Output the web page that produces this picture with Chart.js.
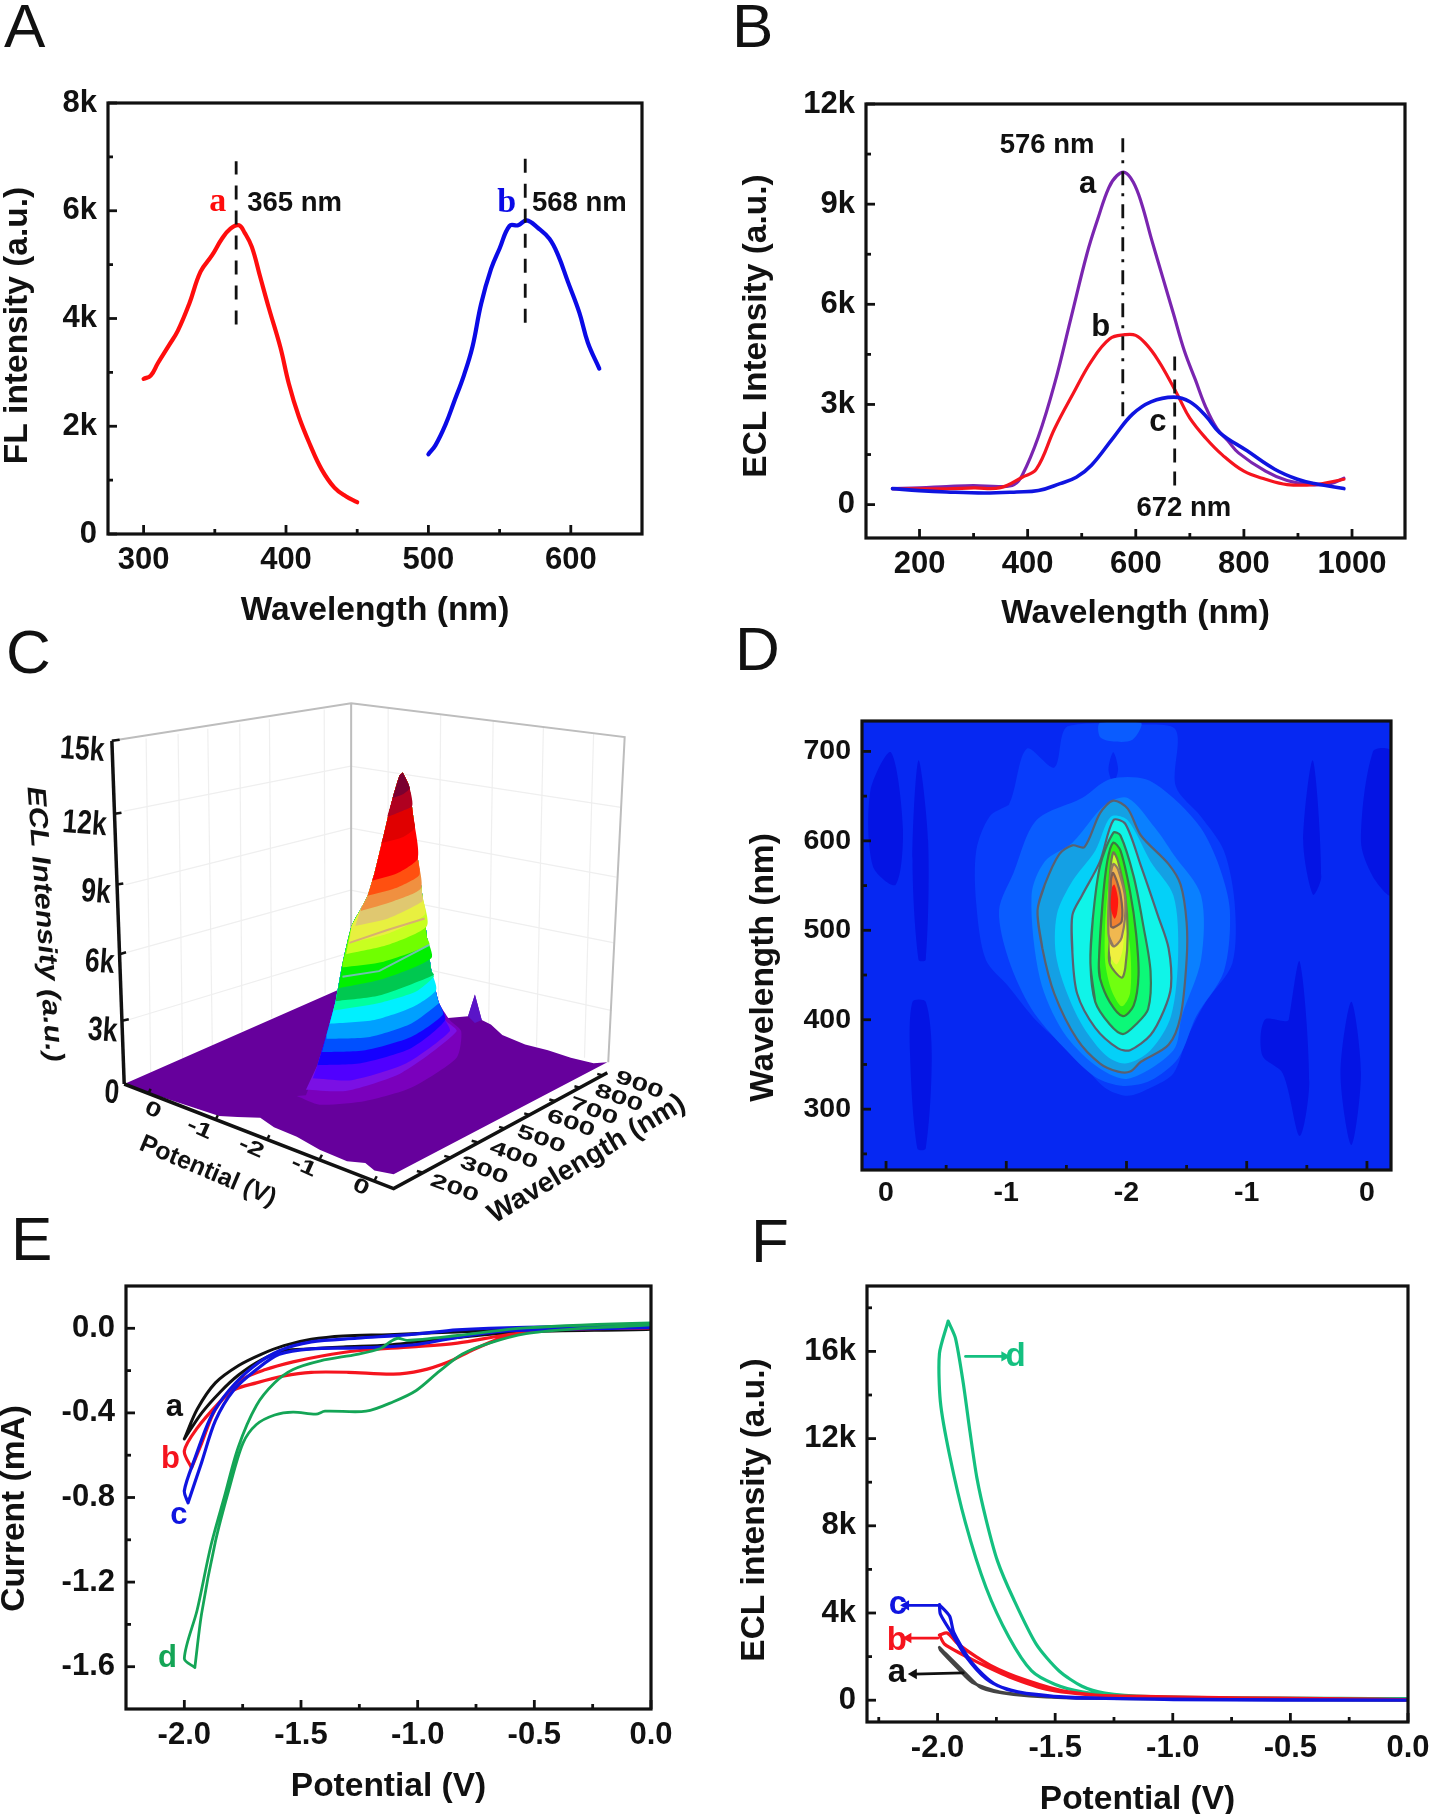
<!DOCTYPE html>
<html><head><meta charset="utf-8">
<script src="https://cdn.jsdelivr.net/npm/chart.js@4"></script>
<style>
html,body{margin:0;padding:0;background:#fff;overflow:hidden;width:1433px;height:1814px}
#page{position:relative;width:1433px;height:1814px;overflow:hidden;background:#fff}
canvas{position:absolute}
.letter{position:absolute;font:62px/62px "Liberation Sans",Arial,sans-serif;color:#111}
</style></head><body><div id="page"></div>
<script>
/* ---------- Panel A ---------- */
const aRedX=[300,305,310,318,324,332,340,348,355,361,367,371,376,382,388,396,402,409,417,425,434,442,450];
const aRedY=[2880,2940,3170,3510,3770,4270,4870,5170,5480,5670,5730,5590,5330,4760,4190,3470,2790,2180,1650,1200,860,700,590];
const aBlueX=[500,505,512,518,525,531,537,544,550,557,563,569,577,585,591,598,606,612,620];
const aBlueY=[1480,1650,2030,2450,2950,3480,4270,4920,5300,5720,5730,5820,5680,5480,5180,4680,4110,3550,3070];
const aXTicks=[300,400,500,600], aXMinor=[350,450,550];
const aYTicks=[0,2000,4000,6000,8000], aYMinor=[1000,3000,5000,7000];
/* ---------- Panel B ---------- */
const bAX=[150,200,250,300,350,375,390,420,450,480,510,530,550,565,580,595,610,630,650,670,690,710,730,750,770,790,840,880,925,960,985];
const bAY=[480,500,540,570,540,600,880,2040,3630,5580,7530,8570,9490,9850,9950,9670,9060,7900,6800,5700,4600,3750,2900,2280,1920,1550,1000,720,600,630,790];
const bBX=[150,250,300,350,390,416,450,484,518,552,580,600,620,640,660,680,700,730,760,800,840,880,930,985];
const bBY=[480,470,500,510,820,1060,2280,3320,4300,4970,5090,5070,4790,4360,3810,3200,2590,1980,1490,1000,760,600,600,760];
const bCX=[150,200,250,320,380,420,460,490,518,560,594,628,670,700,730,755,806,857,899,930,985];
const bCY=[480,420,380,350,380,420,630,820,1180,2040,2710,3080,3220,3080,2650,2160,1610,1060,760,630,480];
const bXTicks=[200,400,600,800,1000], bXMinor=[300,500,700,900];
const bYTicks=[0,3000,6000,9000,12000], bYMinor=[1500,4500,7500,10500];
/* ---------- Panel D (sweep position, wavelength) ---------- */
const dXTicks=[0,1,2,3,4], dXLabels=['0','-1','-2','-1','0'], dXMinor=[.5,1.5,2.5,3.5];
const dYTicks=[300,400,500,600,700], dYMinor=[250,350,450,550,650];
const dDark=[
 [[-.13,656],[.04,699],[.14,614],[.08,551],[-.11,572]],
 [[.27,690],[.35,600],[.33,467],[.27,467],[.22,580]],
 [[.22,420],[.33,420],[.38,360],[.33,256],[.26,256],[.2,360]],
 [[3.55,690],[3.62,560],[3.55,540],[3.47,600]],
 [[3.44,465],[3.52,330],[3.44,270],[3.3,340],[3.13,360],[3.15,400],[3.35,400]],
 [[4.05,700],[4.2,700],[4.2,540],[4.05,560],[3.95,600]],
 [[3.87,420],[3.95,340],[3.87,260],[3.78,340]]];
const dHalo1=[[.86,627],[1.02,640],[1.17,703],[1.40,682],[1.51,728],[2.12,730],[2.41,724],[2.41,661],[2.62,627],[2.81,589],[2.90,530],[2.88,463],[2.66,420],[2.50,378],[2.39,340],[2.20,324],[2.01,315],[1.82,324],[1.59,357],[1.25,399],[1.02,437],[.83,467],[.75,530],[.75,589]];
const dNotch=[[1.89,699],[1.85,680],[1.89,665],[1.93,680]];
const dTopBlob=[[1.78,732],[2.12,732],[2.05,713],[1.89,711],[1.78,716]];
const dHalo2=[[1.06,564],[1.25,623],[1.63,648],[1.86,669],[2.16,669],[2.39,648],[2.62,614],[2.77,572],[2.86,522],[2.81,454],[2.58,404],[2.43,357],[2.20,332],[1.97,326],[1.74,336],[1.47,370],[1.21,412],[1.02,467],[.94,522]];
const dHalo3=[[1.21,539],[1.32,577],[1.55,598],[1.82,640],[2.01,648],[2.24,614],[2.39,585],[2.62,539],[2.62,467],[2.46,404],[2.39,366],[2.01,334],[1.74,349],[1.47,387],[1.28,446]];
const dC1=[[1.26,522],[1.32,551],[1.44,585],[1.55,595],[1.65,593],[1.78,631],[1.89,645],[2.01,636],[2.12,606],[2.35,574],[2.45,551],[2.50,509],[2.50,467],[2.45,404],[2.35,372],[2.12,353],[2.03,342],[1.93,342],[1.78,351],[1.59,378],[1.40,429],[1.30,480]];
const dC1b=[[1.42,517],[1.55,555],[1.74,589],[1.87,627],[2.01,623],[2.20,577],[2.39,539],[2.43,475],[2.37,404],[2.20,366],[1.99,351],[1.82,361],[1.59,404],[1.42,467]];
const dC2=[[1.55,517],[1.63,539],[1.78,577],[1.89,623],[1.99,619],[2.12,572],[2.26,517],[2.35,480],[2.37,437],[2.31,410],[2.20,383],[2.03,366],[1.93,368],[1.74,391],[1.59,429],[1.55,475]];
const dC3=[[1.70,463],[1.72,513],[1.78,572],[1.89,609],[1.95,606],[2.06,560],[2.14,505],[2.20,454],[2.18,412],[2.08,395],[1.97,384],[1.86,395],[1.74,420]];
const dC4=[[1.77,463],[1.80,530],[1.84,577],[1.89,598],[1.95,589],[2.03,543],[2.08,496],[2.10,450],[2.06,416],[1.97,404],[1.86,420],[1.78,446]];
const dC4b=[[1.82,470],[1.84,540],[1.90,575],[1.97,530],[2.03,480],[2.03,430],[1.96,415],[1.87,435]];
const dC5=[[1.86,488],[1.86,555],[1.89,587],[1.93,577],[1.99,539],[2.01,496],[1.99,458],[1.96,447],[1.86,463]];
const dC5b=[[1.86,490],[1.87,560],[1.92,560],[1.98,520],[1.97,480],[1.92,462],[1.87,470]];
const dC6=[[1.85,496],[1.86,551],[1.89,574],[1.93,568],[1.99,534],[1.96,492],[1.89,482]];
const dC7=[[1.87,505],[1.87,555],[1.89,564],[1.95,540],[1.96,510],[1.89,503]];
const dC8=[[1.87,525],[1.88,548],[1.90,551],[1.93,535],[1.92,518],[1.90,513]];
/* ---------- Panel E ---------- */
const eAX=[-2,-1.945,-1.867,-1.769,-1.671,-1.573,-1.456,-1.319,-1.123,-.928,-.732,-.536,0,0,-.536,-.83,-1.123,-1.319,-1.456,-1.573,-1.671,-1.769,-1.847,-1.926,-2];
const eAY=[-.523,-.383,-.258,-.177,-.123,-.082,-.052,-.036,-.03,-.021,-.013,-.004,.004,-.004,-.016,-.043,-.079,-.088,-.097,-.106,-.15,-.222,-.302,-.401,-.523];
const eBX=[-1.969,-1.926,-1.867,-1.789,-1.691,-1.573,-1.456,-1.299,-1.104,-.986,-.869,-.771,-.634,-.497,0,0,-.438,-.634,-.83,-1.025,-1.26,-1.417,-1.534,-1.652,-1.749,-1.847,-1.945,-2,-1.969];
const eBY=[-.66,-.544,-.383,-.293,-.258,-.225,-.208,-.208,-.217,-.2,-.159,-.106,-.043,-.011,.005,.002,-.007,-.034,-.07,-.088,-.106,-.132,-.159,-.195,-.24,-.347,-.472,-.58,-.66];
const eCX=[-1.984,-1.926,-1.867,-1.789,-1.691,-1.593,-1.456,-1.26,-1.025,-.83,-.634,0,0,-.536,-.83,-1.025,-1.26,-1.456,-1.593,-1.71,-1.808,-1.886,-1.955,-2,-1.984];
const eCY=[-.825,-.634,-.437,-.293,-.195,-.123,-.097,-.093,-.079,-.043,-.013,.004,.009,.005,-.007,-.029,-.047,-.064,-.106,-.186,-.293,-.419,-.616,-.768,-.825];
const eDX=[-1.955,-1.926,-1.867,-1.808,-1.749,-1.691,-1.613,-1.534,-1.436,-1.397,-1.221,-1.104,-1.006,-.908,-.81,-.693,-.536,-.34,0,0,-.536,-.83,-1.045,-1.084,-1.114,-1.162,-1.26,-1.417,-1.534,-1.613,-1.691,-1.769,-1.828,-1.886,-1.945,-2,-1.955];
const eDY=[-1.604,-1.349,-1.009,-.759,-.544,-.455,-.41,-.396,-.406,-.392,-.392,-.347,-.294,-.204,-.123,-.07,-.025,-.004,.016,.025,.002,-.034,-.057,-.047,-.061,-.097,-.123,-.154,-.195,-.258,-.365,-.562,-.795,-1.027,-1.332,-1.561,-1.604];
const eXTicks=[-2,-1.5,-1,-.5,0], eXMinor=[-1.75,-1.25,-.75,-.25];
const eYTicks=[0,-.4,-.8,-1.2,-1.6], eYMinor=[-.2,-.6,-1,-1.4];
/* ---------- Panel F ---------- */
const fAX=[-1.992,-1.891,-1.813,-1.677,-1.386,0,-1.483,-1.736,-1.852,-1.911,-1.988,-1.992];
const fAY=[2420,1340,560,260,90,0,120,380,820,1430,2300,2420];
const fBX=[-1.992,-1.959,-1.911,-1.775,-1.619,-1.444,-1.191,0,-1.289,-1.522,-1.697,-1.852,-1.969,-1.992];
const fBY=[2990,3080,2560,1600,900,380,160,30,210,470,1080,1860,2560,2990];
const fCX=[-1.992,-1.949,-1.93,-1.852,-1.755,-1.619,-1.386,0,-.997,-1.483,-1.697,-1.794,-1.881,-1.94,-1.988,-1.992];
const fCY=[4380,3860,3080,1690,730,300,90,0,30,160,470,990,2030,3080,3950,4380];
const fDX=[-1.955,-1.924,-1.891,-1.862,-1.833,-1.794,-1.745,-1.677,-1.58,-1.483,-1.386,-1.289,-1.094,-.803,0,-.803,-1.191,-1.386,-1.502,-1.6,-1.697,-1.794,-1.881,-1.949,-1.988,-1.992,-1.955];
const fDY=[17390,16610,14560,12300,10210,8300,6380,4640,2560,1340,640,330,160,120,70,90,160,380,730,1340,2900,5170,8120,11250,13690,15910,17390];
const fXTicks=[-2,-1.5,-1,-.5,0], fXMinor=[-2.25,-1.75,-1.25,-.75,-.25];
const fYTicks=[0,4000,8000,12000,16000], fYMinor=[2000,6000,10000,14000,18000];
/* ---------- Panel C (projected 3D view, plot units) ---------- */
const cWallEdges=[[[245,268],[769,168],[1368,258],[1332,1122]],[[769,168],[769,930]]];
const cWallFaint=[[[272,455],[768,335],[1360,445]],[[275,650],[768,500],[1350,630]],[[278,830],[768,665],[1345,805]],[[280,1010],[768,830],[1340,985]],
 [[320,262],[330,1150]],[[390,250],[400,1115]],[[455,236],[465,1080]],[[525,222],[530,1040]],[[590,210],[595,1005]],[[710,185],[712,940]],
 [[850,180],[850,900]],[[965,197],[960,980]],[[1080,215],[1070,1030]],[[1190,232],[1175,1080]],[[1300,248],[1280,1110]]];
const cFloor=[[272,1180],[330,1205],[380,1225],[430,1245],[480,1265],[520,1268],[570,1270],[600,1295],[650,1320],[700,1355],[760,1385],[800,1390],[820,1410],[862,1420],[1330,1122],[1300,1125],[1250,1110],[1200,1090],[1150,1075],[1100,1050],[1075,1022],[1055,1010],[1040,942],[1025,1000],[975,1005],[960,985],[740,930]];
const cSpike=[[1025,1000],[1040,942],[1055,1010],[1040,1018]];
const cPeakLeft=[[882,352],[875,360],[860,420],[840,520],[820,620],[805,680],[790,715],[770,760],[750,860],[735,960],[715,1050],[695,1130],[670,1210],[650,1212]];
const cPeakRight=[[882,352],[895,385],[905,470],[915,580],[925,680],[935,790],[945,880],[960,960],[975,1010]];
const cBandArcs=[
 [[650,1212],[700,1235],[800,1225],[900,1190],[1000,1110],[1010,1040],[985,1010]],
 [[670,1195],[760,1198],[880,1150],[1000,1040]],
 [[685,1165],[770,1170],[890,1125],[985,1040]],
 [[695,1130],[790,1125],[900,1085],[975,1010]],
 [[705,1095],[800,1090],[900,1055],[970,995]],
 [[715,1060],[810,1055],[900,1020],[962,965]],
 [[722,1020],[820,1010],[905,975],[955,930]],
 [[730,985],[830,965],[910,935],[950,895]],
 [[735,960],[830,945],[950,890]],
 [[742,925],[840,900],[945,845]],
 [[750,870],[840,855],[940,810]],
 [[758,835],[850,810],[935,760]],
 [[765,805],[850,780],[930,730]],
 [[778,760],[850,740],[925,695]],
 [[790,720],[860,695],[922,660]],
 [[805,680],[865,660],[918,625]],
 [[815,640],[870,620],[915,580]],
 [[835,540],[880,525],[908,500]],
 [[848,470],[880,455],[903,440]],
 [[860,420],[882,410],[897,395]]];
const cBandColors=['#7a00bc','#7b10e4','#5000ff','#1500ff','#0050ff','#00a0ff','#00f0ff','#00ffa0','#00c850','#00f000','#70ff00','#c8ff20','#e8f040','#e0c870','#f09040','#ff5010','#ff0000','#e00000','#b00020','#7a0030'];
const cAxisZ=[[245,268],[272,1180]];
const cAxisFloor=[[272,1180],[862,1458],[1330,1150]];
const cZTicks=[[[245,268],[262,265]],[[251,462],[266,459]],[[256,650],[270,647]],[[262,835],[276,830]],[[267,1012],[282,1008]]];
const cPotTicks=[[[325,1205],[330,1193]],[[472,1275],[477,1263]],[[585,1328],[590,1316]],[[700,1380],[705,1368]],[[820,1437],[825,1425]]];
const cWaveTicks=[[[925,1415],[913,1411]],[[985,1375],[973,1371]],[[1045,1335],[1033,1331]],[[1105,1298],[1093,1294]],[[1160,1262],[1148,1258]],[[1215,1225],[1203,1221]],[[1270,1190],[1258,1186]],[[1320,1157],[1308,1153]]];
const cZLabels=['15k','12k','9k','6k','3k','0'];
const cPotLabels=['0','-1','-2','-1','0'];
const cWaveLabels=['200','300','400','500','600','700','800','900'];

const FF='"Liberation Sans",Arial,sans-serif';
const page=document.getElementById('page');
const kFmt=v=>v===0?'0':(v/1000)+'k';
const fix1=v=>v.toFixed(1);
const zip=(xs,ys)=>xs.map((x,i)=>({x,y:ys[i]}));
const pts=a=>a.map(p=>({x:p[0],y:p[1]}));
const closed=a=>[a[a.length-1]].concat(a,[a[0],a[1]]);

function letter(t,l,base){const d=document.createElement('div');d.className='letter';d.textContent=t;d.style.left=l+'px';d.style.top=(base-52.5)+'px';page.appendChild(d);}
letter('A',4,47);letter('B',732,47);letter('C',6,673);letter('D',735,670);letter('E',11,1260);letter('F',751,1262);

const curve=(data,color,w,extra)=>Object.assign({data,showLine:true,borderColor:color,backgroundColor:color,borderWidth:w,pointRadius:0,tension:.3,fill:false,borderCapStyle:'round',borderJoinStyle:'round'},extra||{});
const shape=(a,color,line)=>({data:pts(closed(a)),showLine:true,borderColor:line||'transparent',backgroundColor:color,borderWidth:line?2.2:0,pointRadius:0,tension:.3,fill:'shape'});
const poly=(a,color,tension)=>({data:pts(a),showLine:true,borderColor:'transparent',backgroundColor:color,borderWidth:0,pointRadius:0,tension:tension||0,fill:'shape'});
const seg=(a,color,w)=>({data:pts(a),showLine:true,borderColor:color,borderWidth:w,pointRadius:0,tension:0,fill:false});

const framePlugin={id:'frame',
 beforeDatasetsDraw(chart,_,o){ if(!o.bg) return; const a=chart.chartArea,c=chart.ctx; c.save();c.fillStyle=o.bg;c.fillRect(a.left,a.top,a.width,a.height);c.restore(); },
 afterDatasetsDraw(chart,_,o){
  const c=chart.ctx,a=chart.chartArea; c.save();
  if(o.draw!==false){
   c.strokeStyle='#111';c.lineWidth=3.2;c.strokeRect(a.left,a.top,a.width,a.height);
   const X=chart.scales.x,Y=chart.scales.y;
   const tick=(px,len,hor)=>{c.beginPath(); if(hor){c.moveTo(a.left,px);c.lineTo(a.left+len,px);} else {c.moveTo(px,a.bottom);c.lineTo(px,a.bottom-len);} c.stroke();};
   c.lineWidth=2.8;
   (o.xMajor||[]).forEach(v=>tick(X.getPixelForValue(v),9,false));
   (o.yMajor||[]).forEach(v=>tick(Y.getPixelForValue(v),9,true));
   (o.xMinor||[]).forEach(v=>tick(X.getPixelForValue(v),5,false));
   (o.yMinor||[]).forEach(v=>tick(Y.getPixelForValue(v),5,true));
  }
  (o.texts||[]).forEach(t=>{
   c.save();c.translate(chart.scales.x.getPixelForValue(t.x),chart.scales.y.getPixelForValue(t.y));
   if(t.rot)c.rotate(t.rot*Math.PI/180);
   if(t.sx||t.sy)c.scale(t.sx||1,t.sy||1);
   c.font=t.font;c.fillStyle=t.color||'#111';c.textAlign='center';c.textBaseline='middle';c.fillText(t.t,0,0);c.restore();
  });
  c.restore();
 }};
Chart.register(framePlugin);
Chart.defaults.animation=false;

function panel(o){
 const tf=33.5,lh=tf*1.2;
 const [l,t,r,b]=o.box;
 const yW=l-o.yTitleX+lh/2, xH=o.xTitleY-b+lh/2;
 const tickSize=o.tickSize||31;
 const cl=Math.floor(l-yW-8),ct=t-30,cr=r+45,cb=Math.ceil(b+xH+6);
 const cv=document.createElement('canvas');cv.width=cr-cl;cv.height=cb-ct;cv.style.left=cl+'px';cv.style.top=ct+'px';page.appendChild(cv);
 const shift=(s,dy)=>{ if(dy&&!s.__wrapped){const od=s.drawTitle;s.drawTitle=function(){const c=this.ctx;c.save();c.translate(0,dy);od.call(this);c.restore();};s.__wrapped=true;} };
 const axis=(a,text,isX)=>({type:'linear',min:a.min,max:a.max,grid:{display:false,drawTicks:false},border:{display:false},
   afterBuildTicks:s=>{s.ticks=a.major.map(v=>({value:v}));},
   ticks:{callback:(v,i)=>a.fmt(v,i),autoSkip:false,maxRotation:0,minRotation:0,padding:isX?(o.xPad||8):11,color:'#111',font:{family:FF,weight:'bold',size:tickSize}},
   title:{display:true,text,color:'#111',padding:0,font:{family:FF,weight:'bold',size:tf}},
   afterFit:s=>{ if(isX){s.height=xH;} else {s.width=yW; shift(s,o.yShift||0);} }});
 o.datasets.forEach((d,i)=>{d.order=-i;});
 return new Chart(cv,{type:'scatter',data:{datasets:o.datasets},options:{responsive:false,animation:false,
   layout:{padding:{left:l-yW-cl,top:t-ct,right:cr-r,bottom:cb-(b+xH)}},
   plugins:{legend:{display:false},tooltip:{enabled:false},
     frame:{bg:o.bg,xMajor:o.x.major,yMajor:o.y.major,xMinor:o.x.minor,yMinor:o.y.minor,texts:o.texts}},
   scales:{x:axis(o.x,o.xText,true),y:axis(o.y,o.yText,false)}}});
}
const black='#111';
const lbl=(f,s,w)=>`${w||'bold'} ${s}px ${f||FF}`;
const SERIF='"Liberation Serif",serif';

/* A */
panel({box:[108,103,642,534],yTitleX:18,xTitleY:611,yShift:7,
 x:{min:275,max:650,major:aXTicks,minor:aXMinor,fmt:v=>String(v)},
 y:{min:0,max:8000,major:aYTicks,minor:aYMinor,fmt:kFmt},
 xText:'Wavelength (nm)',yText:'FL intensity (a.u.)',
 datasets:[curve(zip(aRedX,aRedY),'#ff0d0d',4.2,{tension:.4}),curve(zip(aBlueX,aBlueY),'#0a0ae6',4.2,{tension:.4}),
  curve(zip([365,365],[3890,6920]),black,2.8,{borderDash:[14,11],tension:0,borderCapStyle:'butt'}),
  curve(zip([568,568],[3920,6970]),black,2.8,{borderDash:[14,11],tension:0,borderCapStyle:'butt'})],
 texts:[{t:'365 nm',x:406,y:6140,font:lbl(null,27.5)},{t:'568 nm',x:606,y:6140,font:lbl(null,27.5)},
  {t:'a',x:352,y:6160,font:lbl(SERIF,34),color:'#ff0d0d'},{t:'b',x:555,y:6140,font:lbl(SERIF,34),color:'#0a0ae6'}]});

/* B */
panel({box:[866,104,1405,538],yTitleX:757,xTitleY:614,yShift:5,
 x:{min:101,max:1098,major:bXTicks,minor:bXMinor,fmt:v=>String(v)},
 y:{min:-1000,max:12000,major:bYTicks,minor:bYMinor,fmt:kFmt},
 xText:'Wavelength (nm)',yText:'ECL Intensity (a.u.)',
 datasets:[curve(zip(bAX,bAY),'#7a25b0',3.2,{tension:.4}),curve(zip(bBX,bBY),'#f5141e',3.2,{tension:.4}),curve(zip(bCX,bCY),'#0f14e0',3.6,{tension:.4}),
  curve(zip([576,576],[2650,11070]),black,2.8,{borderDash:[14,8,3,8],tension:0,borderCapStyle:'butt'}),
  curve(zip([672,672],[570,4600]),black,2.8,{borderDash:[14,9],tension:0,borderCapStyle:'butt'})],
 texts:[{t:'576 nm',x:436,y:10770,font:lbl(null,27.5)},{t:'672 nm',x:689,y:-120,font:lbl(null,27.5)},
  {t:'a',x:511,y:9600,font:lbl(null,31)},{t:'b',x:535,y:5310,font:lbl(null,31)},{t:'c',x:641,y:2470,font:lbl(null,31)}]});

/* C */
(function(){
 const cv=document.createElement('canvas');cv.width=716;cv.height=590;cv.style.left='0px';cv.style.top='640px';page.appendChild(cv);
 const ds=[];
 cWallFaint.forEach(a=>ds.push(seg(a,'#efefef',1.2)));
 cWallEdges.forEach(a=>ds.push(seg(a,'#bdbdbd',2)));
 ds.push(poly(cFloor,'#66009c'));
 cBandArcs.forEach((arc,i)=>{
  const last=arc[arc.length-1],first=arc[0];
  const outline=arc.concat(cPeakRight.filter(p=>p[1]<last[1]).reverse()).concat(cPeakLeft.filter(p=>p[1]<first[1]));
  ds.push(poly(outline,cBandColors[i],.22));
 });
 ds.push(poly(cSpike,'#5a14c8'));
 ds.push(seg([[765,805],[850,770],[930,740]],'#d8b070',2));
 ds.push(seg([[750,895],[830,880],[940,810]],'#70c0b0',2));
 ds.push(seg(cAxisZ,black,3.5));ds.push(seg(cAxisFloor,black,3.5));
 [].concat(cZTicks,cPotTicks,cWaveTicks).forEach(a=>ds.push(seg(a,black,2.5)));
 ds.forEach((d,i)=>{d.order=-i;});
 const zPos=[[180,293],[185,490],[210,672],[218,858],[225,1040],[245,1205]];
 const potPos=[[335,1250],[437,1300],[550,1350],[665,1400],[790,1455]];
 const wavePos=[[995,1458],[1060,1410],[1125,1370],[1185,1328],[1250,1285],[1300,1253],[1355,1218],[1400,1183]];
 const texts=[];
 cZLabels.forEach((t,i)=>texts.push({t,x:zPos[i][0],y:zPos[i][1],font:lbl(null,28),rot:4,sx:.95,sy:1.2}));
 cPotLabels.forEach((t,i)=>texts.push({t,x:potPos[i][0],y:potPos[i][1],font:lbl(null,24),rot:24,sx:1.2,sy:.85}));
 cWaveLabels.forEach((t,i)=>texts.push({t,x:wavePos[i][0],y:wavePos[i][1],font:lbl(null,24),rot:20,sx:1.25,sy:.8}));
 texts.push({t:'ECL Intensity (a.u.)',x:97,y:755,font:`italic bold 29px ${FF}`,rot:86,sx:1.05,sy:.9});
 texts.push({t:'Potential (V)',x:455,y:1412,font:lbl(null,25),rot:23});
 texts.push({t:'Wavelength (nm)',x:1285,y:1380,font:lbl(null,28),rot:-31});
 const hid=(rev)=>({type:'linear',display:false,min:0,max:1568,reverse:!!rev});
 new Chart(cv,{type:'scatter',data:{datasets:ds},options:{responsive:false,animation:false,layout:{padding:0},
   plugins:{legend:{display:false},tooltip:{enabled:false},frame:{draw:false,texts}},
   scales:{x:hid(false),y:hid(true)}}});
})();

/* D */
(function(){
 const ds=[];
 dDark.forEach(a=>ds.push(shape(a,'#0414e4')));
 ds.push(shape(dHalo1,'#083cfb'));
 ds.push(shape(dNotch,'#0628f2'));
 ds.push(shape(dTopBlob,'#0a5cff'));
 ds.push(shape(dHalo2,'#0a5cff'));
 ds.push(shape(dHalo3,'#0a80ff'));
 const L='#5a6070';
 ds.push(shape(dC1,'#14a0e4',L));
 ds.push(shape(dC1b,'#04d0f8'));
 ds.push(shape(dC2,'#10f4e8',L));
 ds.push(shape(dC3,'#0cf878','#3e7458'));
 ds.push(shape(dC4,'#2cf018','#3a7a40'));
 ds.push(shape(dC4b,'#70ff10'));
 ds.push(shape(dC5,'#c8ff28','#707a50'));
 ds.push(shape(dC5b,'#f0f040'));
 ds.push(shape(dC6,'#f0b850','#907a60'));
 ds.push(shape(dC7,'#f08030','#806050'));
 ds.push(shape(dC8,'#ff1810'));
 panel({box:[862,721,1391,1170],yTitleX:764,xTitleY:1260,yShift:22,tickSize:28.5,xPad:6,bg:'#0628f2',
  x:{min:-.2,max:4.2,major:dXTicks,minor:dXMinor,fmt:(v,i)=>dXLabels[i]},
  y:{min:232,max:734,major:dYTicks,minor:dYMinor,fmt:v=>String(v)},
  xText:' ',yText:'Wavelength (nm)',datasets:ds,texts:[]});
})();

/* E */
const eGreen='#14a556';
panel({box:[126,1286,651,1709],yTitleX:15,xTitleY:1787,yShift:11,
 x:{min:-2.25,max:0,major:eXTicks,minor:eXMinor,fmt:fix1},
 y:{min:-1.8,max:.2,major:eYTicks,minor:eYMinor,fmt:fix1},
 xText:'Potential (V)',yText:'Current (mA)',
 datasets:[curve(zip(eAX,eAY),'#111',3,{tension:.3}),curve(zip(eBX,eBY),'#f5141e',3.2,{tension:.3}),
  curve(zip(eCX,eCY),'#0f14e0',3.2,{tension:.3}),curve(zip(eDX,eDY),eGreen,2.8,{tension:.3})],
 texts:[{t:'a',x:-2.043,y:-.374,font:lbl(null,31)},{t:'b',x:-2.059,y:-.619,font:lbl(null,31),color:'#f5141e'},
  {t:'c',x:-2.023,y:-.884,font:lbl(null,31),color:'#0f14e0'},{t:'d',x:-2.072,y:-1.561,font:lbl(null,31),color:eGreen}]});

/* F */
const fGreen='#14c080';
const arrow=(x0,y0,x1,y1,color,rot)=>curve(zip([x0,x1],[y0,y1]),color,2.8,{tension:0,pointRadius:[0,6],pointStyle:'triangle',pointRotation:rot,pointBackgroundColor:color,pointBorderColor:color,pointBorderWidth:0});
panel({box:[867,1286,1408,1722],yTitleX:755,xTitleY:1800,yShift:6,
 x:{min:-2.3,max:0,major:fXTicks,minor:fXMinor,fmt:fix1},
 y:{min:-1000,max:19000,major:fYTicks,minor:fYMinor,fmt:kFmt},
 xText:'Potential (V)',yText:'ECL intensity (a.u.)',
 datasets:[curve(zip(fAX,fAY),'#444',3,{tension:.25}),curve(zip(fDX,fDY),fGreen,3.2,{tension:.25}),
  curve(zip(fBX,fBY),'#f5141e',3.2,{tension:.25}),curve(zip(fCX,fCY),'#0f14e0',3.2,{tension:.25}),
  arrow(-1.881,15770,-1.716,15770,fGreen,90),arrow(-1.992,4350,-2.134,4350,'#0f14e0',-90),
  arrow(-1.998,2850,-2.124,2850,'#f5141e',-90),arrow(-1.891,1250,-2.101,1200,'#111',-90)],
 texts:[{t:'d',x:-1.668,y:15740,font:lbl(null,33),color:fGreen},{t:'c',x:-2.169,y:4380,font:lbl(null,33),color:'#0f14e0'},
  {t:'b',x:-2.173,y:2730,font:lbl(null,33),color:'#f5141e'},{t:'a',x:-2.173,y:1250,font:lbl(null,33)}]});
</script></body></html>
